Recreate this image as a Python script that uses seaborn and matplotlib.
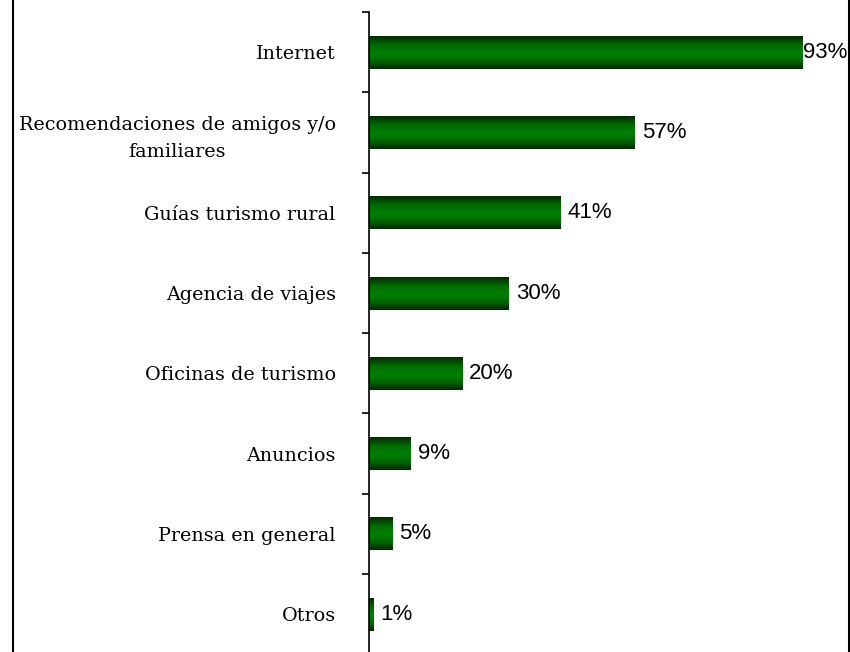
import numpy as np
import pandas as pd
import matplotlib
matplotlib.use("Agg")
import matplotlib.pyplot as plt
import seaborn as sns
from matplotlib.colors import LinearSegmentedColormap
from matplotlib.lines import Line2D

# --- Datos ---
categorias = [
    "Internet",
    "Recomendaciones de amigos y/o\nfamiliares",
    "Guías turismo rural",
    "Agencia de viajes",
    "Oficinas de turismo",
    "Anuncios",
    "Prensa en general",
    "Otros",
]
porcentajes = [93, 57, 41, 30, 20, 9, 5, 1]

df = pd.DataFrame({"categoria": categorias, "valor": np.array(porcentajes) / 100})

sns.set_style("white")
plt.rcParams["font.family"] = ["DejaVu Serif"]
plt.rcParams["text.color"] = "black"
plt.rcParams["ytick.color"] = "black"

fig = plt.figure(figsize=(8.5, 6.52), dpi=100)
W, H = 850, 652
ax = fig.add_axes([369 / W, -2.4 / H, (835 - 369) / W, (654.4 - 12) / H])

sns.barplot(data=df, x="valor", y="categoria", orient="h", color="#008000",
            width=0.41, ax=ax, edgecolor="none")

# degradado verde en cada barra
cmap = LinearSegmentedColormap.from_list("verde", ["#002a00", "#006800", "#008000", "#006800", "#002a00"])
grad = np.linspace(0, 1, 64).reshape(-1, 1)
for p in ax.patches:
    x0, y0 = p.get_x(), p.get_y()
    w, h = p.get_width(), p.get_height()
    im = ax.imshow(grad, cmap=cmap, aspect="auto", extent=[x0, x0 + w, y0 + h, y0],
                   zorder=p.get_zorder() + 0.1, interpolation="bilinear")
    im.set_clip_path(p)

ax.set_xlim(0, 1.0)
ax.set_ylim(len(categorias) - 0.5, -0.5)

# etiquetas de porcentaje
for i, v in enumerate(porcentajes):
    off = 0.5 if v > 90 else 5
    ax.annotate(f"{v}%", xy=(v / 100, i), xytext=(off, 0), textcoords="offset points",
                va="center", ha="left", fontsize=16, family="Liberation Sans",
                color="black", annotation_clip=False)

ax.set_xlabel("")
ax.set_ylabel("")
ax.set_xticks([])
for s in ["top", "right", "bottom"]:
    ax.spines[s].set_visible(False)
ax.spines["left"].set_linewidth(1.2)
ax.spines["left"].set_color("black")

ax.set_yticks(np.arange(len(categorias) + 1) - 0.5, minor=True)
ax.tick_params(axis="y", which="minor", length=5, width=1.2, direction="out", color="black", left=True)
ax.tick_params(axis="y", which="major", length=0, pad=24, labelsize=13.8, labelcolor="black")
for t in ax.get_yticklabels():
    t.set_multialignment("center")
    t.set_linespacing(1.6)

# bordes laterales del gráfico
fig.add_artist(Line2D([12.5 / W, 12.5 / W], [0, 1], color="black", lw=1.5))
fig.add_artist(Line2D([848.5 / W, 848.5 / W], [0, 1], color="black", lw=1.5))

fig.savefig("out.png", dpi=100)
